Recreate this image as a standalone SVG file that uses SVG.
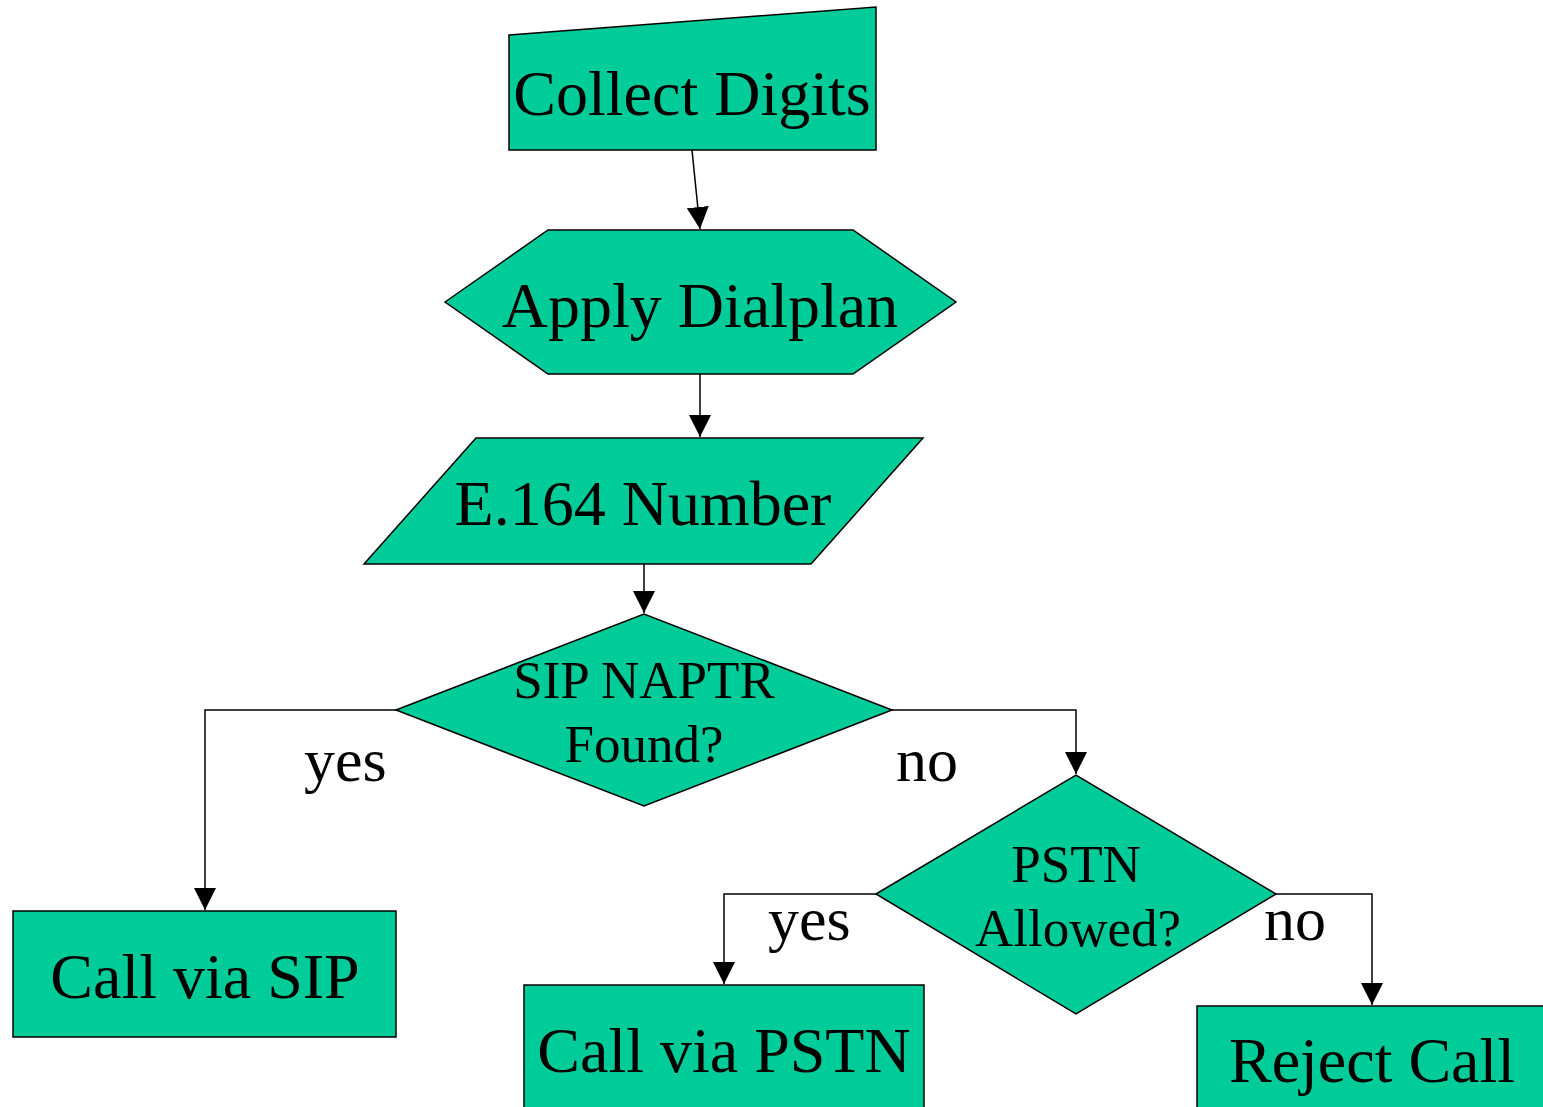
<svg xmlns="http://www.w3.org/2000/svg" width="1543" height="1107" viewBox="0 0 1543 1107">
<style>
.n{fill:#00CC99;stroke:#000;stroke-width:1.5}
.t{font-family:"Liberation Serif","Times New Roman",serif;fill:#000;text-anchor:middle}
.b{font-size:64px}
.m{font-size:53px}
.l{font-family:"Liberation Serif","Times New Roman",serif;fill:#000;font-size:62px}
.c{fill:none;stroke:#000;stroke-width:1.5}
</style>
<defs>
<marker id="ah" markerUnits="userSpaceOnUse" markerWidth="22" markerHeight="22" viewBox="0 0 20 20" refX="20" refY="10" orient="auto">
<path d="M0,0 L20,10 L0,20 Z" fill="#000"/>
</marker>
</defs>
<rect width="1543" height="1107" fill="#fff"/>
<g id="connectors">
<line class="c" x1="692" y1="150" x2="700" y2="229" marker-end="url(#ah)"/>
<line class="c" x1="700" y1="374" x2="700" y2="437" marker-end="url(#ah)"/>
<line class="c" x1="644" y1="564" x2="644" y2="613" marker-end="url(#ah)"/>
<polyline class="c" points="396,710 205,710 205,910" marker-end="url(#ah)"/>
<polyline class="c" points="892,710 1076,710 1076,774" marker-end="url(#ah)"/>
<polyline class="c" points="876,894 724,894 724,984" marker-end="url(#ah)"/>
<polyline class="c" points="1276,894 1372,894 1372,1005" marker-end="url(#ah)"/>
<text class="l" x="304" y="781">yes</text>
<text class="l" x="896" y="781">no</text>
<text class="l" x="768" y="940">yes</text>
<text class="l" x="1264" y="940">no</text>
</g>
<g id="collect">
<polygon class="n" points="509,35 876,7 876,150 509,150"/>
<text class="t b" x="692" y="115">Collect Digits</text>
</g>
<g id="dialplan">
<polygon class="n" points="445,302 548,230 853,230 956,302 853,374 548,374"/>
<text class="t b" x="700" y="327">Apply Dialplan</text>
</g>
<g id="e164">
<polygon class="n" points="364,564 476,438 923,438 811,564"/>
<text class="t b" x="643" y="525">E.164 Number</text>
</g>
<g id="naptr">
<polygon class="n" points="396,710 644,614 892,710 644,806"/>
<text class="t m" x="644" y="698">SIP NAPTR</text>
<text class="t m" x="644" y="762">Found?</text>
</g>
<g id="sip">
<rect class="n" x="13" y="911" width="383" height="126"/>
<text class="t b" x="205" y="998">Call via SIP</text>
</g>
<g id="pstnq">
<polygon class="n" points="876,894 1076,775 1276,894 1076,1014"/>
<text class="t m" x="1076" y="882">PSTN</text>
<text class="t m" x="1078" y="946">Allowed?</text>
</g>
<g id="pstn">
<rect class="n" x="524" y="985" width="400" height="130"/>
<text class="t b" x="724" y="1072">Call via PSTN</text>
</g>
<g id="reject">
<rect class="n" x="1197" y="1006" width="360" height="120"/>
<text class="t b" x="1372" y="1082">Reject Call</text>
</g>
</svg>
